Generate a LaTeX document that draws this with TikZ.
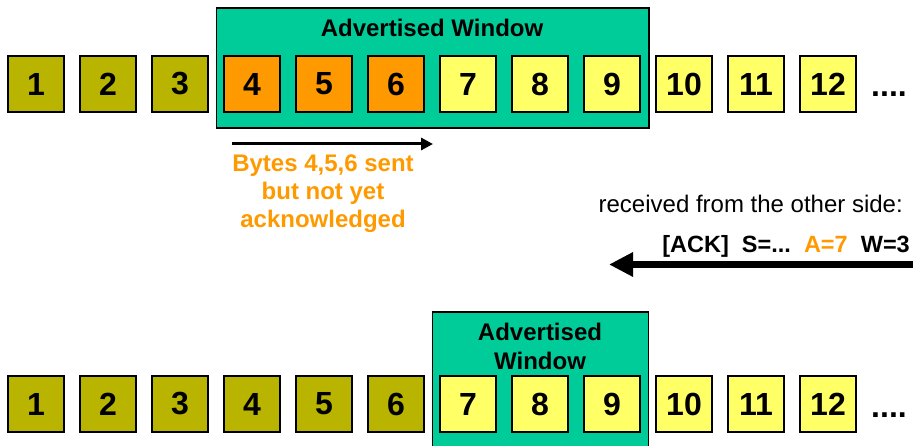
\documentclass[tikz,border=0pt]{standalone}
\usepackage{fontspec}
\setmainfont{Liberation Sans}
\usetikzlibrary{arrows.meta}
\definecolor{olivebox}{RGB}{184,180,0}
\definecolor{orangebox}{RGB}{255,153,0}
\definecolor{yellowbox}{RGB}{255,255,102}
\definecolor{tealwin}{RGB}{0,204,153}
\definecolor{orangetext}{RGB}{255,153,0}
\tikzset{
  bytebox/.style={draw=black, line width=1.2pt, minimum width=56pt, minimum height=56pt, inner sep=0pt, font=\bfseries\fontsize{32}{34}\selectfont},
  acked/.style={bytebox, fill=olivebox},
  sent/.style={bytebox, fill=orangebox},
  free/.style={bytebox, fill=yellowbox},
  winbox/.style={draw=black, line width=1.2pt, fill=tealwin, inner sep=0pt},
  wintext/.style={font=\bfseries\fontsize{24}{28}\selectfont, anchor=base, inner sep=0pt},
  orangelbl/.style={font=\bfseries\fontsize{24}{28}\selectfont, text=orangetext, anchor=base, inner sep=0pt},
  dots/.style={font=\bfseries\fontsize{32}{34}\selectfont, anchor=base west, inner sep=0pt},
}
\begin{document}
\begin{tikzpicture}[x=1pt,y=-1pt]
\useasboundingbox (0,0) rectangle (913,446);
% top window
\node[winbox, minimum width=432.5pt, minimum height=120pt] (w1) at (432.75,68) {};
\node[wintext] (w1t) at (432,36.5) {Advertised Window};
% top row
\node[acked] (t1) at (36,84) {1};
\node[acked] (t2) at (108,84) {2};
\node[acked] (t3) at (180,84) {3};
\node[sent] (t4) at (252,84) {4};
\node[sent] (t5) at (324,84) {5};
\node[sent] (t6) at (396,84) {6};
\node[free] (t7) at (468,84) {7};
\node[free] (t8) at (540,84) {8};
\node[free] (t9) at (612,84) {9};
\node[free] (t10) at (684,84) {10};
\node[free] (t11) at (756,84) {11};
\node[free] (t12) at (828,84) {12};
\node[dots] (td) at (871,97) {....};
% sent arrow
\coordinate (sa) at (232,144);
\coordinate (sb) at (433,144);
\draw[line width=3pt, -{Triangle[length=12pt,width=12pt]}] (sa) -- (sb);
\node[orangelbl] (s1) at (323,171.5) {Bytes 4,5,6 sent};
\node[orangelbl] (s2) at (323,200) {but not yet};
\node[orangelbl] (s3) at (323,228) {acknowledged};
% received
\node[font=\fontsize{24}{28}\selectfont, anchor=base east, inner sep=0pt] (recv) at (903,213) {received from the other side:};
\node[font=\bfseries\fontsize{23.5}{28}\selectfont, anchor=base east, inner sep=0pt] (ack) at (910,252.5) {[ACK]\ \ S=...\ \ \textcolor{orangetext}{A=7}\ \ W=3};
\coordinate (ra) at (913,264.5);
\coordinate (rb) at (609,264.5);
\draw[line width=6.5pt, -{Triangle[length=24pt,width=23pt]}] (ra) -- (rb);
% bottom window
\node[winbox, minimum width=216.5pt, minimum height=140pt] (w2) at (540.5,382) {};
\node[wintext] (w2a) at (540,341) {Advertised};
\node[wintext] (w2b) at (540,370) {Window};
% bottom row
\node[acked] (b1) at (36,404) {1};
\node[acked] (b2) at (108,404) {2};
\node[acked] (b3) at (180,404) {3};
\node[acked] (b4) at (252,404) {4};
\node[acked] (b5) at (324,404) {5};
\node[acked] (b6) at (396,404) {6};
\node[free] (b7) at (468,404) {7};
\node[free] (b8) at (540,404) {8};
\node[free] (b9) at (612,404) {9};
\node[free] (b10) at (684,404) {10};
\node[free] (b11) at (756,404) {11};
\node[free] (b12) at (828,404) {12};
\node[dots] (bd) at (871,417) {....};
\end{tikzpicture}
\end{document}
